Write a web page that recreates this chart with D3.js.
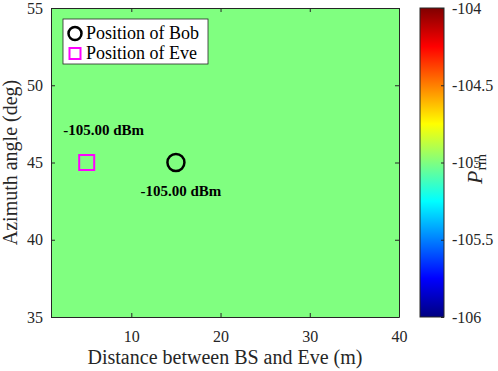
<!DOCTYPE html>
<html>
<head>
<meta charset="utf-8">
<script src="https://cdn.jsdelivr.net/npm/d3@7"></script>
<style>
  body { margin: 0; background: #fff; }
  text { font-family: "Liberation Serif", "Times New Roman", serif; fill: #262626; }
</style>
</head>
<body>
<svg id="chart"></svg>
<script>
const width = 498;
const height = 371;

// grid of received power (dBm), cell edges in distance (m) and azimuth (deg)
const distEdges = [1, 10, 20, 30, 40];
const angleEdges = [35, 40, 45, 50, 55];
const powerGrid = [
    [-105, -105, -105, -105],
    [-105, -105, -105, -105],
    [-105, -105, -105, -105],
    [-105, -105, -105, -105]
];

const xTicks = [10, 20, 30, 40];
const yTicks = [35, 40, 45, 50, 55];
const cbTicks = [-106, -105.5, -105, -104.5, -104];

const bob = { name: "Bob", dist: 15, angle: 45, power: -105.00 };
const eve = { name: "Eve", dist: 5, angle: 45, power: -105.00 };

const margin = { left: 51, top: 8, right: 99, bottom: 54 };
const plotW = width - margin.left - margin.right;
const plotH = height - margin.top - margin.bottom;
const axisColor = "#262626";
const serif = "'Liberation Serif', 'Times New Roman', serif";

const svg = d3.select("#chart")
    .attr("width", width)
    .attr("height", height);

const x = d3.scaleLinear().domain([1, 40]).range([margin.left, margin.left + plotW]);
const y = d3.scaleLinear().domain([35, 55]).range([margin.top + plotH, margin.top]);

// jet colormap
const jetStops = [[0, "#000080"], [0.125, "#0000ff"], [0.375, "#00ffff"], [0.625, "#ffff00"], [0.875, "#ff0000"], [1, "#800000"]];
const jet = d3.scaleLinear().domain(jetStops.map(d => d[0])).range(jetStops.map(d => d[1])).interpolate(d3.interpolateRgb);
const cNorm = d3.scaleLinear().domain([-106, -104]).range([0, 1]).clamp(true);
const color = v => jet(cNorm(v));
const num = d => String(d).replace("\u2212", "-");

// heatmap cells
const cells = [];
powerGrid.forEach((row, j) => row.forEach((v, i) => {
    cells.push({ x0: distEdges[i], x1: distEdges[i + 1], y0: angleEdges[j], y1: angleEdges[j + 1], v: v });
}));

svg.append("g")
    .attr("shape-rendering", "crispEdges")
    .selectAll("rect")
    .data(cells)
    .join("rect")
    .attr("x", d => x(d.x0))
    .attr("y", d => y(d.y1))
    .attr("width", d => x(d.x1) - x(d.x0))
    .attr("height", d => y(d.y0) - y(d.y1))
    .attr("fill", d => color(d.v));

// axes
const xAxis = svg.append("g")
    .attr("transform", `translate(0,${margin.top + plotH})`)
    .call(d3.axisBottom(x).tickValues(xTicks).tickSizeInner(-4).tickSizeOuter(0).tickPadding(14));
const yAxis = svg.append("g")
    .attr("transform", `translate(${margin.left},0)`)
    .call(d3.axisLeft(y).tickValues(yTicks).tickSizeInner(-4).tickSizeOuter(0).tickPadding(8));
const xTop = svg.append("g")
    .attr("transform", `translate(0,${margin.top})`)
    .call(d3.axisTop(x).tickValues(xTicks).tickSizeInner(-4).tickSizeOuter(0).tickFormat(""));
const yRight = svg.append("g")
    .attr("transform", `translate(${margin.left + plotW},0)`)
    .call(d3.axisRight(y).tickValues(yTicks).tickSizeInner(-4).tickSizeOuter(0).tickFormat(""));

[xAxis, yAxis, xTop, yRight].forEach(g => {
    g.select(".domain").attr("stroke", axisColor);
    g.selectAll(".tick line").attr("stroke", axisColor);
    g.selectAll(".tick text")
        .style("font-size", "16px")
        .style("font-family", serif)
        .style("fill", axisColor);
});

svg.append("text")
    .attr("x", margin.left + plotW / 2)
    .attr("y", 364)
    .attr("text-anchor", "middle")
    .style("font-size", "20px")
    .text("Distance between BS and Eve (m)");

svg.append("text")
    .attr("transform", `translate(17,${margin.top + plotH / 2}) rotate(-90)`)
    .attr("text-anchor", "middle")
    .style("font-size", "20px")
    .text("Azimuth angle (deg)");

// markers
const fmt = d3.format(".2f");
svg.append("circle")
    .attr("cx", x(bob.dist))
    .attr("cy", y(bob.angle))
    .attr("r", 8.5)
    .attr("fill", "none")
    .attr("stroke", "#000")
    .attr("stroke-width", 2.5);

svg.append("rect")
    .attr("x", x(eve.dist) - 7.5)
    .attr("y", y(eve.angle) - 7.5)
    .attr("width", 15)
    .attr("height", 15)
    .attr("fill", "none")
    .attr("stroke", "#ff00ff")
    .attr("stroke-width", 2);

svg.append("text")
    .attr("x", x(eve.dist) + 17)
    .attr("y", y(eve.angle) - 28)
    .attr("text-anchor", "middle")
    .style("font-size", "15px")
    .style("font-weight", "bold")
    .style("fill", "#000")
    .text(num(fmt(eve.power)) + " dBm");

svg.append("text")
    .attr("x", x(bob.dist) + 5)
    .attr("y", y(bob.angle) + 33)
    .attr("text-anchor", "middle")
    .style("font-size", "15px")
    .style("font-weight", "bold")
    .style("fill", "#000")
    .text(num(fmt(bob.power)) + " dBm");

// legend
const legend = svg.append("g").attr("transform", "translate(63,19)");
legend.append("rect")
    .attr("width", 145)
    .attr("height", 45)
    .attr("fill", "#fff")
    .attr("stroke", axisColor)
    .attr("stroke-width", 0.8);
legend.append("circle")
    .attr("cx", 12)
    .attr("cy", 14.5)
    .attr("r", 6.5)
    .attr("fill", "none")
    .attr("stroke", "#000")
    .attr("stroke-width", 2.5);
legend.append("rect")
    .attr("x", 6.5)
    .attr("y", 29)
    .attr("width", 11)
    .attr("height", 11)
    .attr("fill", "none")
    .attr("stroke", "#ff00ff")
    .attr("stroke-width", 2);
legend.append("text")
    .attr("x", 23)
    .attr("y", 19.5)
    .style("font-size", "18px")
    .style("fill", "#000")
    .text("Position of " + bob.name);
legend.append("text")
    .attr("x", 23)
    .attr("y", 39.5)
    .style("font-size", "18px")
    .style("fill", "#000")
    .text("Position of " + eve.name);

// colorbar
const cbX = 420, cbW = 24;
const cbY = d3.scaleLinear().domain([-106, -104]).range([margin.top + plotH, margin.top]);

const grad = svg.append("defs").append("linearGradient")
    .attr("id", "jet")
    .attr("x1", 0).attr("y1", 1).attr("x2", 0).attr("y2", 0);
grad.selectAll("stop")
    .data(jetStops)
    .join("stop")
    .attr("offset", d => d[0])
    .attr("stop-color", d => d[1]);

svg.append("rect")
    .attr("x", cbX)
    .attr("y", margin.top)
    .attr("width", cbW)
    .attr("height", plotH)
    .attr("fill", "url(#jet)")
    .attr("stroke", axisColor)
    .attr("stroke-width", 1);

const cbAxis = svg.append("g")
    .attr("transform", `translate(${cbX + cbW},0)`)
    .call(d3.axisRight(cbY).tickValues(cbTicks).tickSizeInner(-3).tickSizeOuter(0).tickPadding(8).tickFormat(d => num(d3.format("")(d))));
cbAxis.select(".domain").remove();
cbAxis.selectAll(".tick line").attr("stroke", axisColor);
cbAxis.selectAll(".tick text")
    .style("font-size", "16px")
    .style("font-family", serif)
    .style("fill", axisColor);

const cbLabel = svg.append("text")
    .attr("transform", `translate(482,169) rotate(-90)`)
    .attr("text-anchor", "middle")
    .style("font-size", "22px");
cbLabel.append("tspan").style("font-style", "italic").text("P");
cbLabel.append("tspan").style("font-size", "15px").attr("dy", 4).text("rin");
</script>
</body>
</html>
